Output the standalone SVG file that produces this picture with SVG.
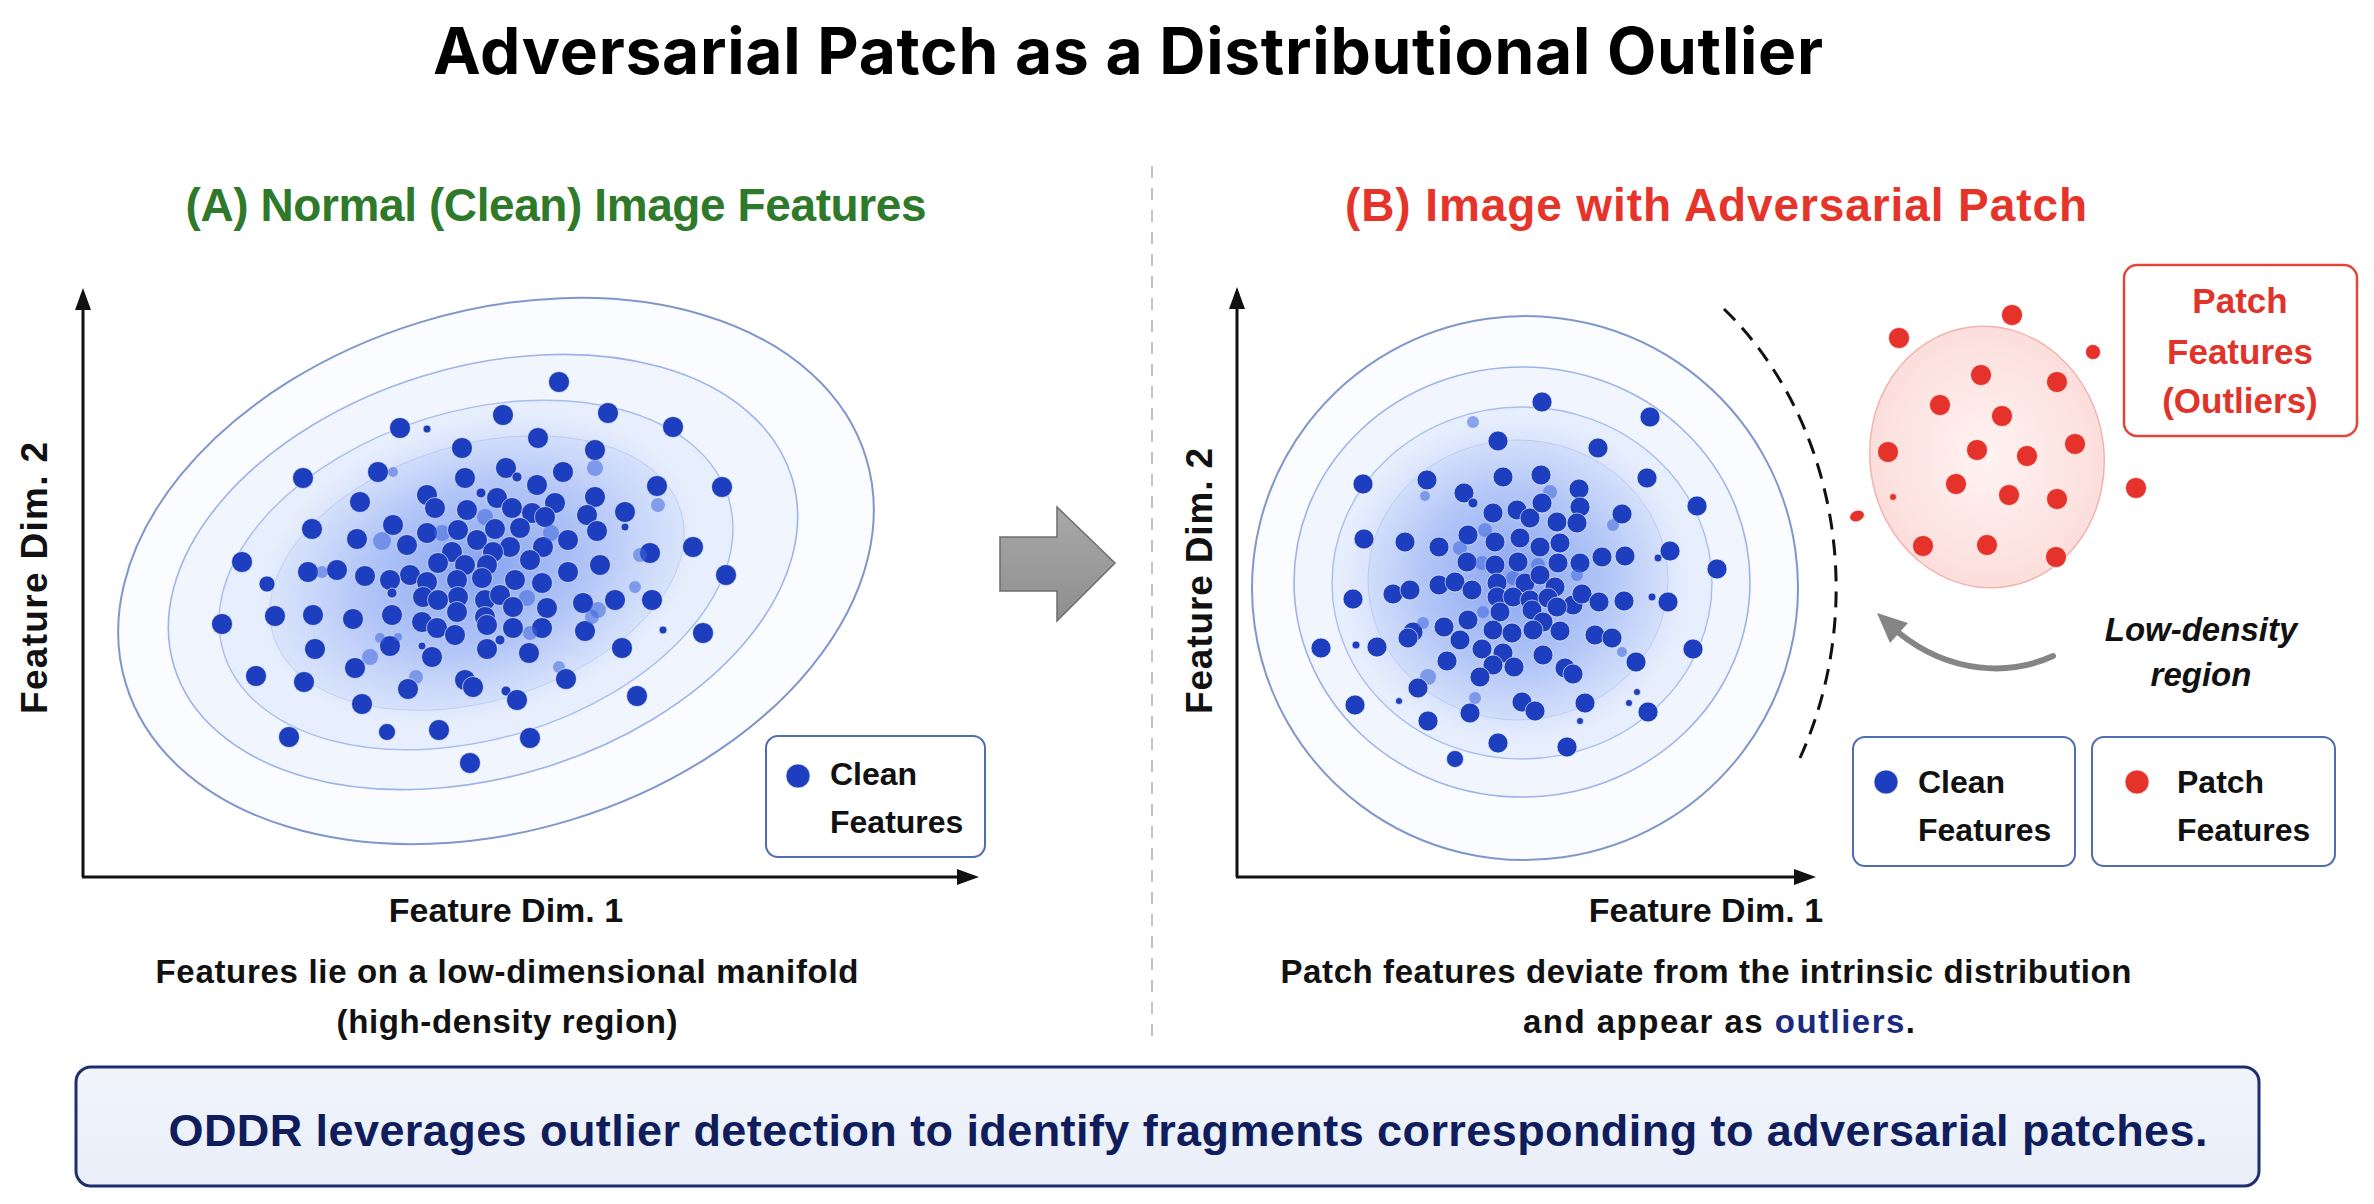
<svg xmlns="http://www.w3.org/2000/svg" width="2374" height="1204" viewBox="0 0 2374 1204">
<defs>
<style>
.t{font-family:"Liberation Sans",Arial,sans-serif;font-weight:700;fill:#111}
.b{fill:#1d3fbf;stroke:#fff;stroke-width:1;stroke-opacity:.6}
.bf{fill:#3f66dd;opacity:.55}
.r{fill:#e5322a;stroke:#fff;stroke-width:1;stroke-opacity:.6}
.ring1{fill:#fbfcff;stroke:#8097cc;stroke-width:2}
.ring2{fill:#f1f5fe;stroke:#9db3ea;stroke-width:1.6}
.ring3{fill:#e7eefd;stroke:#a9bdf0;stroke-width:1.4}
.ring4{fill:#dde7fc;stroke:#c3d2f6;stroke-width:1}
.axis{stroke:#111;stroke-width:3;fill:none}
.leg{fill:#fff;stroke:#4f6db3;stroke-width:2}
</style>
<radialGradient id="glow" cx="0.5" cy="0.5" r="0.5">
<stop offset="0" stop-color="#3d6ae6" stop-opacity="0.55"/>
<stop offset="0.55" stop-color="#5b82ec" stop-opacity="0.32"/>
<stop offset="1" stop-color="#7e9cf0" stop-opacity="0"/>
</radialGradient>
<radialGradient id="pink" cx="0.5" cy="0.5" r="0.5">
<stop offset="0" stop-color="#fff3f2"/>
<stop offset="1" stop-color="#fcdedb"/>
</radialGradient>
<linearGradient id="gray" x1="0" y1="0" x2="0" y2="1">
<stop offset="0" stop-color="#a9a9a9"/>
<stop offset="1" stop-color="#8e8e8e"/>
</linearGradient>
<linearGradient id="box" x1="0" y1="0" x2="0" y2="1">
<stop offset="0" stop-color="#f1f4fb"/>
<stop offset="1" stop-color="#e9eef9"/>
</linearGradient>
</defs>
<rect width="2374" height="1204" fill="#fff"/>

<text x="1128" y="74" text-anchor="middle" font-family="Inter,'Liberation Sans',sans-serif" font-weight="700" font-size="64" fill="#000" textLength="1390" lengthAdjust="spacing">Adversarial Patch as a Distributional Outlier</text>

<line x1="1152" y1="166" x2="1152" y2="1045" stroke="#b5b5b5" stroke-width="1.6" stroke-dasharray="12 10"/>

<g id="panelA">
<text x="556" y="221" text-anchor="middle" class="t" font-size="46" style="fill:#2f7a2a" textLength="741" lengthAdjust="spacing">(A) Normal (Clean) Image Features</text>
<g id="clusterA">
<ellipse class="ring1" cx="496" cy="571" rx="387" ry="260" transform="rotate(-17 496 571)"/>
<ellipse class="ring2" cx="483" cy="572" rx="323" ry="205" transform="rotate(-17 483 572)"/>
<ellipse class="ring3" cx="476" cy="575" rx="264" ry="164" transform="rotate(-17 476 575)"/>
<ellipse class="ring4" cx="477" cy="573" rx="213" ry="128" transform="rotate(-17 477 573)"/>
<ellipse fill="url(#glow)" cx="478" cy="568" rx="225" ry="150" transform="rotate(-17 478 568)"/>
<g>
<circle class="b" cx="559" cy="382" r="10.5"/><circle class="b" cx="503" cy="415" r="10.5"/><circle class="b" cx="608" cy="413" r="10.5"/><circle class="b" cx="673" cy="427" r="10.5"/><circle class="b" cx="400" cy="428" r="10.5"/><circle class="b" cx="427" cy="429" r="4"/><circle class="b" cx="538" cy="438" r="10.5"/><circle class="b" cx="462" cy="448" r="10.5"/><circle class="b" cx="595" cy="450" r="10.5"/><circle class="bf" cx="595" cy="468" r="8"/><circle class="b" cx="303" cy="478" r="10.5"/><circle class="b" cx="378" cy="472" r="10.5"/><circle class="bf" cx="393" cy="472" r="5"/><circle class="b" cx="465" cy="478" r="10.5"/><circle class="b" cx="506" cy="468" r="10.5"/><circle class="b" cx="517" cy="477" r="5"/><circle class="b" cx="537" cy="485" r="10.5"/><circle class="b" cx="563" cy="472" r="10.5"/><circle class="b" cx="657" cy="486" r="10.5"/><circle class="b" cx="722" cy="487" r="10.5"/><circle class="bf" cx="658" cy="505" r="7"/><circle class="b" cx="360" cy="502" r="10.5"/><circle class="b" cx="427" cy="495" r="10.5"/><circle class="b" cx="435" cy="508" r="10.5"/><circle class="b" cx="481" cy="493" r="5"/><circle class="b" cx="497" cy="498" r="10.5"/><circle class="b" cx="512" cy="508" r="10.5"/><circle class="b" cx="467" cy="510" r="10.5"/><circle class="b" cx="555" cy="503" r="10.5"/><circle class="b" cx="595" cy="497" r="10.5"/><circle class="b" cx="587" cy="515" r="10.5"/><circle class="b" cx="625" cy="512" r="10.5"/><circle class="b" cx="532" cy="513" r="10.5"/><circle class="bf" cx="485" cy="517" r="8"/><circle class="b" cx="545" cy="517" r="10.5"/><circle class="b" cx="312" cy="529" r="10.5"/><circle class="b" cx="357" cy="539" r="10.5"/><circle class="b" cx="393" cy="525" r="10.5"/><circle class="bf" cx="382" cy="541" r="9"/><circle class="b" cx="407" cy="545" r="10.5"/><circle class="b" cx="427" cy="533" r="10.5"/><circle class="bf" cx="442" cy="533" r="8"/><circle class="b" cx="458" cy="530" r="10.5"/><circle class="b" cx="495" cy="529" r="10.5"/><circle class="b" cx="477" cy="540" r="10.5"/><circle class="b" cx="520" cy="528" r="10.5"/><circle class="b" cx="510" cy="547" r="10.5"/><circle class="b" cx="543" cy="547" r="10.5"/><circle class="b" cx="568" cy="540" r="10.5"/><circle class="b" cx="597" cy="531" r="10.5"/><circle class="bf" cx="551" cy="533" r="8"/><circle class="b" cx="625" cy="527" r="4"/><circle class="b" cx="650" cy="553" r="10.5"/><circle class="bf" cx="640" cy="555" r="7"/><circle class="b" cx="693" cy="547" r="10.5"/><circle class="b" cx="452" cy="552" r="10.5"/><circle class="b" cx="493" cy="552" r="10.5"/><circle class="b" cx="530" cy="560" r="10.5"/><circle class="b" cx="600" cy="565" r="10.5"/><circle class="b" cx="568" cy="572" r="10.5"/><circle class="b" cx="242" cy="562" r="10.5"/><circle class="b" cx="438" cy="563" r="10.5"/><circle class="b" cx="465" cy="565" r="10.5"/><circle class="b" cx="487" cy="565" r="10.5"/><circle class="b" cx="410" cy="575" r="10.5"/><circle class="b" cx="390" cy="580" r="10.5"/><circle class="b" cx="365" cy="576" r="10.5"/><circle class="b" cx="337" cy="570" r="10.5"/><circle class="b" cx="308" cy="572" r="10.5"/><circle class="bf" cx="322" cy="572" r="6"/><circle class="b" cx="267" cy="584" r="8"/><circle class="b" cx="726" cy="575" r="10.5"/><circle class="b" cx="427" cy="582" r="10.5"/><circle class="b" cx="457" cy="580" r="10.5"/><circle class="b" cx="482" cy="578" r="10.5"/><circle class="b" cx="515" cy="580" r="10.5"/><circle class="b" cx="542" cy="583" r="10.5"/><circle class="b" cx="392" cy="593" r="5"/><circle class="b" cx="423" cy="597" r="10.5"/><circle class="b" cx="458" cy="597" r="10.5"/><circle class="b" cx="485" cy="600" r="10.5"/><circle class="b" cx="500" cy="595" r="10.5"/><circle class="bf" cx="527" cy="598" r="8"/><circle class="b" cx="438" cy="600" r="10.5"/><circle class="b" cx="583" cy="603" r="10.5"/><circle class="b" cx="615" cy="600" r="10.5"/><circle class="b" cx="652" cy="600" r="10.5"/><circle class="bf" cx="598" cy="610" r="8"/><circle class="bf" cx="635" cy="587" r="6"/><circle class="b" cx="275" cy="616" r="10.5"/><circle class="b" cx="313" cy="615" r="10.5"/><circle class="b" cx="353" cy="619" r="10.5"/><circle class="b" cx="392" cy="615" r="10.5"/><circle class="b" cx="422" cy="622" r="10.5"/><circle class="b" cx="457" cy="612" r="10.5"/><circle class="b" cx="485" cy="617" r="10.5"/><circle class="b" cx="513" cy="607" r="10.5"/><circle class="b" cx="547" cy="608" r="10.5"/><circle class="b" cx="222" cy="624" r="10.5"/><circle class="b" cx="585" cy="631" r="10.5"/><circle class="bf" cx="592" cy="617" r="7"/><circle class="b" cx="437" cy="628" r="10.5"/><circle class="b" cx="455" cy="635" r="10.5"/><circle class="b" cx="487" cy="625" r="10.5"/><circle class="b" cx="513" cy="628" r="10.5"/><circle class="b" cx="542" cy="628" r="10.5"/><circle class="bf" cx="530" cy="633" r="7"/><circle class="b" cx="663" cy="630" r="4"/><circle class="b" cx="703" cy="633" r="10.5"/><circle class="b" cx="315" cy="649" r="10.5"/><circle class="b" cx="390" cy="646" r="10.5"/><circle class="bf" cx="398" cy="637" r="4"/><circle class="bf" cx="380" cy="638" r="5"/><circle class="b" cx="422" cy="646" r="4"/><circle class="b" cx="432" cy="657" r="10.5"/><circle class="b" cx="487" cy="649" r="10.5"/><circle class="b" cx="500" cy="640" r="5"/><circle class="b" cx="529" cy="653" r="10.5"/><circle class="b" cx="622" cy="648" r="10.5"/><circle class="bf" cx="370" cy="657" r="8"/><circle class="b" cx="355" cy="668" r="10.5"/><circle class="b" cx="256" cy="676" r="10.5"/><circle class="b" cx="304" cy="682" r="10.5"/><circle class="bf" cx="416" cy="677" r="7"/><circle class="b" cx="408" cy="689" r="10.5"/><circle class="b" cx="465" cy="680" r="10.5"/><circle class="b" cx="473" cy="687" r="10.5"/><circle class="bf" cx="559" cy="667" r="6"/><circle class="b" cx="566" cy="679" r="10.5"/><circle class="b" cx="506" cy="691" r="5"/><circle class="b" cx="517" cy="700" r="10.5"/><circle class="b" cx="637" cy="696" r="10.5"/><circle class="b" cx="362" cy="704" r="10.5"/><circle class="b" cx="289" cy="737" r="10.5"/><circle class="b" cx="387" cy="732" r="8.5"/><circle class="b" cx="439" cy="730" r="10.5"/><circle class="b" cx="530" cy="738" r="10.5"/><circle class="b" cx="470" cy="763" r="10.5"/>
</g>
</g>
<g id="axesA">
<line class="axis" x1="83" y1="877" x2="83" y2="300"/>
<path d="M83,288 L75,310 L91,310 Z" fill="#111"/>
<line class="axis" x1="82" y1="877" x2="966" y2="877"/>
<path d="M979,877 L957,869 L957,885 Z" fill="#111"/>
<text class="t" font-size="34" x="506" y="922" text-anchor="middle">Feature Dim. 1</text>
<text class="t" font-size="37" transform="translate(47 578) rotate(-90)" text-anchor="middle" textLength="272" lengthAdjust="spacing">Feature Dim. 2</text>
</g>
<g id="legendA">
<rect class="leg" x="766" y="736" width="219" height="121" rx="12"/>
<circle class="b" cx="798" cy="776" r="12"/>
<text class="t" font-size="32" x="830" y="785">Clean</text>
<text class="t" font-size="32" x="830" y="833">Features</text>
</g>
<g id="captionA">
<text class="t" font-size="33" x="507" y="983" text-anchor="middle" textLength="703" lengthAdjust="spacing">Features lie on a low-dimensional manifold</text>
<text class="t" font-size="33" x="507" y="1033" text-anchor="middle" textLength="341" lengthAdjust="spacing">(high-density region)</text>
</g>
</g>

<g id="bigArrow">
<path d="M1000,537 L1057,537 L1057,507 L1115,563 L1057,621 L1057,591 L1000,591 Z" fill="url(#gray)" stroke="#6e6e6e" stroke-width="1.5"/>
</g>

<g id="panelB">
<text x="1716" y="221" text-anchor="middle" class="t" font-size="46" style="fill:#e5352b" textLength="742" lengthAdjust="spacing">(B) Image with Adversarial Patch</text>
<g id="clusterB">
<ellipse class="ring1" cx="1525" cy="588" rx="273" ry="272" transform="rotate(-8 1525 588)"/>
<ellipse class="ring2" cx="1522" cy="582" rx="228" ry="215"/>
<ellipse class="ring3" cx="1522" cy="583" rx="190" ry="176"/>
<ellipse class="ring4" cx="1518" cy="580" rx="150" ry="140"/>
<ellipse fill="url(#glow)" cx="1515" cy="580" rx="175" ry="165"/>
<g>
<circle class="b" cx="1542" cy="402" r="10"/><circle class="b" cx="1650" cy="417" r="10"/><circle class="bf" cx="1473" cy="422" r="6"/><circle class="b" cx="1498" cy="441" r="10"/><circle class="b" cx="1598" cy="448" r="10"/><circle class="b" cx="1363" cy="484" r="10"/><circle class="b" cx="1427" cy="480" r="10"/><circle class="bf" cx="1425" cy="496" r="5"/><circle class="b" cx="1503" cy="477" r="10"/><circle class="b" cx="1541" cy="475" r="10"/><circle class="b" cx="1647" cy="478" r="10"/><circle class="b" cx="1579" cy="489" r="10"/><circle class="b" cx="1464" cy="493" r="10"/><circle class="b" cx="1473" cy="503" r="5"/><circle class="bf" cx="1550" cy="492" r="7"/><circle class="b" cx="1697" cy="506" r="10"/><circle class="b" cx="1493" cy="513" r="10"/><circle class="b" cx="1517" cy="510" r="10"/><circle class="b" cx="1530" cy="518" r="10"/><circle class="b" cx="1542" cy="503" r="10"/><circle class="b" cx="1580" cy="507" r="10"/><circle class="b" cx="1557" cy="522" r="10"/><circle class="b" cx="1577" cy="523" r="10"/><circle class="b" cx="1622" cy="514" r="10"/><circle class="bf" cx="1613" cy="525" r="6"/><circle class="b" cx="1364" cy="539" r="10"/><circle class="b" cx="1405" cy="542" r="10"/><circle class="b" cx="1439" cy="547" r="10"/><circle class="b" cx="1468" cy="535" r="10"/><circle class="b" cx="1495" cy="542" r="10"/><circle class="b" cx="1520" cy="538" r="10"/><circle class="b" cx="1540" cy="547" r="10"/><circle class="b" cx="1560" cy="543" r="10"/><circle class="bf" cx="1485" cy="530" r="7"/><circle class="bf" cx="1460" cy="548" r="7"/><circle class="b" cx="1467" cy="562" r="10"/><circle class="bf" cx="1482" cy="563" r="7"/><circle class="b" cx="1495" cy="565" r="10"/><circle class="b" cx="1518" cy="562" r="10"/><circle class="bf" cx="1538" cy="565" r="7"/><circle class="b" cx="1558" cy="563" r="10"/><circle class="b" cx="1580" cy="563" r="10"/><circle class="b" cx="1602" cy="557" r="10"/><circle class="b" cx="1625" cy="556" r="10"/><circle class="b" cx="1670" cy="551" r="10"/><circle class="b" cx="1658" cy="558" r="4"/><circle class="b" cx="1717" cy="569" r="10"/><circle class="bf" cx="1577" cy="575" r="6"/><circle class="b" cx="1353" cy="599" r="10"/><circle class="b" cx="1393" cy="594" r="10"/><circle class="b" cx="1410" cy="590" r="10"/><circle class="b" cx="1439" cy="585" r="10"/><circle class="b" cx="1455" cy="582" r="10"/><circle class="b" cx="1472" cy="590" r="10"/><circle class="b" cx="1497" cy="583" r="10"/><circle class="bf" cx="1513" cy="578" r="7"/><circle class="b" cx="1525" cy="583" r="10"/><circle class="b" cx="1540" cy="575" r="10"/><circle class="b" cx="1555" cy="587" r="10"/><circle class="b" cx="1497" cy="597" r="10"/><circle class="b" cx="1513" cy="597" r="10"/><circle class="b" cx="1530" cy="600" r="10"/><circle class="b" cx="1548" cy="598" r="10"/><circle class="b" cx="1573" cy="605" r="10"/><circle class="b" cx="1582" cy="594" r="10"/><circle class="b" cx="1599" cy="602" r="10"/><circle class="b" cx="1624" cy="601" r="10"/><circle class="b" cx="1668" cy="602" r="10"/><circle class="b" cx="1652" cy="597" r="4"/><circle class="b" cx="1500" cy="612" r="10"/><circle class="b" cx="1532" cy="610" r="10"/><circle class="bf" cx="1483" cy="612" r="6"/><circle class="b" cx="1468" cy="620" r="10"/><circle class="b" cx="1543" cy="622" r="10"/><circle class="b" cx="1557" cy="607" r="10"/><circle class="b" cx="1413" cy="632" r="10"/><circle class="b" cx="1408" cy="638" r="10"/><circle class="b" cx="1444" cy="627" r="10"/><circle class="b" cx="1460" cy="640" r="10"/><circle class="b" cx="1493" cy="630" r="10"/><circle class="b" cx="1512" cy="633" r="10"/><circle class="b" cx="1533" cy="630" r="10"/><circle class="b" cx="1560" cy="631" r="10"/><circle class="b" cx="1595" cy="635" r="10"/><circle class="b" cx="1612" cy="638" r="10"/><circle class="bf" cx="1423" cy="623" r="6"/><circle class="b" cx="1321" cy="648" r="10"/><circle class="b" cx="1356" cy="645" r="4"/><circle class="b" cx="1377" cy="647" r="10"/><circle class="b" cx="1447" cy="661" r="10"/><circle class="b" cx="1482" cy="649" r="10"/><circle class="b" cx="1503" cy="653" r="10"/><circle class="b" cx="1514" cy="667" r="10"/><circle class="b" cx="1493" cy="665" r="10"/><circle class="b" cx="1543" cy="655" r="10"/><circle class="b" cx="1636" cy="662" r="10"/><circle class="b" cx="1693" cy="649" r="10"/><circle class="bf" cx="1622" cy="652" r="5"/><circle class="bf" cx="1428" cy="677" r="8"/><circle class="b" cx="1418" cy="688" r="10"/><circle class="b" cx="1480" cy="677" r="10"/><circle class="b" cx="1565" cy="668" r="10"/><circle class="b" cx="1573" cy="674" r="10"/><circle class="b" cx="1399" cy="701" r="3.5"/><circle class="b" cx="1355" cy="705" r="10"/><circle class="b" cx="1428" cy="721" r="10"/><circle class="b" cx="1470" cy="713" r="10"/><circle class="bf" cx="1475" cy="698" r="6"/><circle class="b" cx="1522" cy="702" r="10"/><circle class="b" cx="1535" cy="711" r="10"/><circle class="b" cx="1585" cy="703" r="10"/><circle class="b" cx="1580" cy="721" r="3.5"/><circle class="b" cx="1648" cy="712" r="10"/><circle class="b" cx="1637" cy="692" r="3.5"/><circle class="b" cx="1629" cy="703" r="3.5"/><circle class="b" cx="1498" cy="743" r="10"/><circle class="b" cx="1567" cy="747" r="10"/><circle class="b" cx="1455" cy="759" r="8.5"/>
</g>
</g>
<path id="boundary" d="M1724,309 A313,364 0 0,1 1800,758" fill="none" stroke="#111" stroke-width="3" stroke-dasharray="16 10"/>
<g id="patchCluster">
<ellipse cx="1987" cy="457" rx="117" ry="131" fill="url(#pink)" stroke="#f3b3ac" stroke-width="1.5" transform="rotate(-8 1987 457)"/>
<circle class="r" cx="2012" cy="315" r="10.5"/><circle class="r" cx="1899" cy="338" r="10.5"/><circle class="r" cx="2093" cy="352" r="7.5"/><circle class="r" cx="1981" cy="375" r="10.5"/><circle class="r" cx="2057" cy="382" r="10.5"/><circle class="r" cx="1940" cy="405" r="10.5"/><circle class="r" cx="2002" cy="416" r="10.5"/><circle class="r" cx="1888" cy="452" r="10.5"/><circle class="r" cx="1977" cy="450" r="10.5"/><circle class="r" cx="2027" cy="456" r="10.5"/><circle class="r" cx="2075" cy="444" r="10.5"/><circle class="r" cx="2136" cy="488" r="10.5"/><circle class="r" cx="1956" cy="484" r="10.5"/><circle class="r" cx="2009" cy="495" r="10.5"/><circle class="r" cx="2057" cy="499" r="10.5"/><circle class="r" cx="1893" cy="497" r="3.5"/><ellipse class="r" cx="1857" cy="516" rx="7.5" ry="5.5" transform="rotate(-20 1857 516)"/><circle class="r" cx="1923" cy="546" r="10.5"/><circle class="r" cx="1987" cy="545" r="10.5"/><circle class="r" cx="2056" cy="557" r="10.5"/>
</g>
<g id="patchLabel">
<rect x="2124" y="265" width="233" height="171" rx="13" fill="#fff" stroke="#e0473d" stroke-width="2.5"/>
<text class="t" font-size="35" style="fill:#e0332a" x="2240" y="313" text-anchor="middle">Patch</text>
<text class="t" font-size="35" style="fill:#e0332a" x="2240" y="364" text-anchor="middle">Features</text>
<text class="t" font-size="35" style="fill:#e0332a" x="2240" y="413" text-anchor="middle">(Outliers)</text>
</g>
<g id="lowDensity">
<path d="M2053,656 C2010,676 1950,674 1899,633" fill="none" stroke="#858585" stroke-width="6" stroke-linecap="round"/>
<path d="M1877,613 L1890,643 L1908,623 Z" fill="#858585"/>
<text class="t" font-size="33" font-style="italic" x="2201" y="641" text-anchor="middle">Low-density</text>
<text class="t" font-size="33" font-style="italic" x="2201" y="686" text-anchor="middle">region</text>
</g>
<g id="axesB">
<line class="axis" x1="1237" y1="877" x2="1237" y2="300"/>
<path d="M1237,287 L1229,309 L1245,309 Z" fill="#111"/>
<line class="axis" x1="1236" y1="877" x2="1803" y2="877"/>
<path d="M1816,877 L1794,869 L1794,885 Z" fill="#111"/>
<text class="t" font-size="34" x="1706" y="922" text-anchor="middle">Feature Dim. 1</text>
<text class="t" font-size="37" transform="translate(1212 581) rotate(-90)" text-anchor="middle" textLength="266" lengthAdjust="spacing">Feature Dim. 2</text>
</g>
<g id="legendB">
<rect class="leg" x="1853" y="737" width="222" height="129" rx="12"/>
<circle class="b" cx="1886" cy="782" r="12"/>
<text class="t" font-size="32" x="1918" y="793">Clean</text>
<text class="t" font-size="32" x="1918" y="841">Features</text>
<rect class="leg" x="2092" y="737" width="243" height="129" rx="12"/>
<circle class="r" cx="2137" cy="782" r="12"/>
<text class="t" font-size="32" x="2177" y="793">Patch</text>
<text class="t" font-size="32" x="2177" y="841">Features</text>
</g>
<g id="captionB">
<text class="t" font-size="33" x="1706" y="983" text-anchor="middle" textLength="851" lengthAdjust="spacing">Patch features deviate from the intrinsic distribution</text>
<text class="t" font-size="33" x="1719" y="1033" text-anchor="middle" textLength="392" lengthAdjust="spacing">and appear as <tspan style="fill:#1a2a80">outliers</tspan>.</text>
</g>
</g>

<g id="summary">
<rect x="76" y="1067" width="2183" height="119" rx="15" fill="url(#box)" stroke="#1f2e6e" stroke-width="3"/>
<text class="t" font-size="45" style="fill:#0f1d5c" x="1188" y="1146" text-anchor="middle" textLength="2039" lengthAdjust="spacing">ODDR leverages outlier detection to identify fragments corresponding to adversarial patches.</text>
</g>
</svg>
